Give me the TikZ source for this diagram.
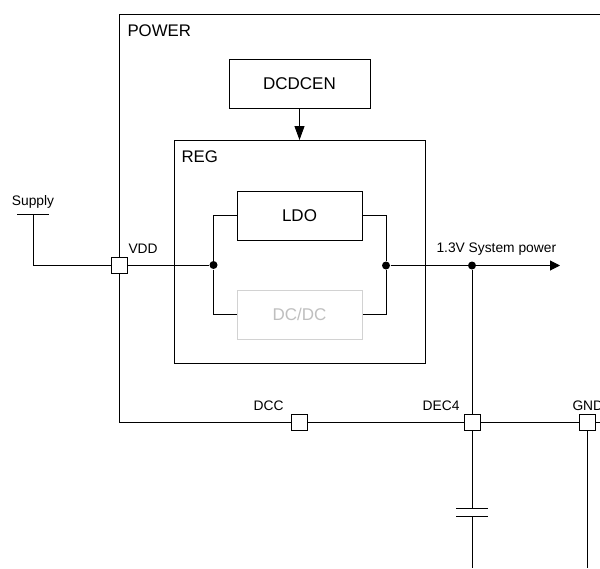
\documentclass[tikz,border=0pt]{standalone}
\usepackage{fontspec}
\setmainfont{Liberation Sans}
\usetikzlibrary{arrows.meta}
\definecolor{offgray}{gray}{0.75}
\tikzset{
	block/.style={draw, minimum width=125pt, minimum height=49pt, inner sep=0pt, font=\fontsize{17}{20}\selectfont},
	pad/.style={draw, fill=white, minimum size=16pt, inner sep=0pt},
	joint/.style={circle, fill=black, minimum size=8pt, inner sep=0pt},
	tag/.style={inner sep=0pt, font=\fontsize{13.8}{16}\selectfont},
	title/.style={inner sep=0pt, anchor=west, font=\fontsize{16.8}{20}\selectfont}
}
\begin{document}
\begin{tikzpicture}[x=1pt,y=-1pt,line width=1pt]
		\clip (0,0) rectangle (600,568);
		\fill[white] (0,0) rectangle (600,568);
		%Blocks
		\draw (174,140) rectangle (425,363);
		\node[block, minimum width=141pt] (dcdcen) at (299.5,83.5) {DCDCEN};
		\node[block] (ldo) at (299.5,215.5) {LDO};
		\node[block, draw=offgray!70!white, text=offgray] (dcdc) at (299.5,314.5) {DC/DC};
		\coordinate (regtop) at (299.5,140);
		%Pads and joints
		\node[pad] (vdd) at (119,265) {};
		\node[pad] (dcc) at (299,422) {};
		\node[pad] (dec) at (472,422) {};
		\node[pad] (gnd) at (587,422) {};
		\node[joint] (in) at (213.5,265) {};
		\node[joint] (out) at (386,265.5) {};
		\node[joint] (sys) at (472,265.5) {};
		%Free ends
		\coordinate (supply) at (33,214);
		\coordinate (supplyl) at (17,214);
		\coordinate (supplyr) at (49,214);
		\coordinate (powtl) at (119,14.5);
		\coordinate (powtr) at (600,14.5);
		\coordinate (powbl) at (119,422);
		\coordinate (powbr) at (600,422);
		\coordinate (tip) at (560,265.5);
		\coordinate (capa) at (472,508);
		\coordinate (capb) at (472,516);
		\coordinate (capal) at (456,508);
		\coordinate (capar) at (488,508);
		\coordinate (capbl) at (456,516);
		\coordinate (capbr) at (488,516);
		\coordinate (deced) at (472,568);
		\coordinate (gnded) at (587,568);
		%Power frame
		\draw (vdd.north) -- (powtl) -- (powtr);
		\draw (vdd.south) -- (powbl) -- (dcc.west);
		\draw (dcc.east) -- (dec.west);
		\draw (dec.east) -- (gnd.west);
		\draw (gnd.east) -- (powbr);
		%Lines
		\draw (supplyl) -- (supplyr);
		\draw (supply) |- (vdd.west);
		\draw (vdd.east) -- (in);
		\draw (in) |- (ldo.west);
		\draw (in) |- (dcdc.west);
		\draw (out) |- (ldo.east);
		\draw (out) |- (dcdc.east);
		\draw [-{Triangle[length=10pt,width=10pt]}] (out) -- (tip);
		\draw (sys) -- (dec.north);
		\draw (dec.south) -- (capa);
		\draw (capal) -- (capar);
		\draw (capbl) -- (capbr);
		\draw (capb) -- (deced);
		\draw (gnd.south) -- (gnded);
		\draw [-{Triangle[length=14pt,width=10pt]}] (dcdcen.south) -- (regtop);
		%Labels
		\node[title] (powlabel) at (127,30.5) {POWER};
		\node[title] (reglabel) at (181,157) {REG};
		\node[tag, anchor=center] (supplylabel) at (33,202) {Supply};
		\node[tag, anchor=west] (vddlabel) at (128,249) {VDD};
		\node[tag, anchor=west] (syslabel) at (436,249) {1.3V System power};
		\node[tag, anchor=east] (dcclabel) at (284,406) {DCC};
		\node[tag, anchor=east] (declabel) at (460,406) {DEC4};
		\node[tag, anchor=west] (gndlabel) at (572,406) {GND};
	\end{tikzpicture}
\end{document}
